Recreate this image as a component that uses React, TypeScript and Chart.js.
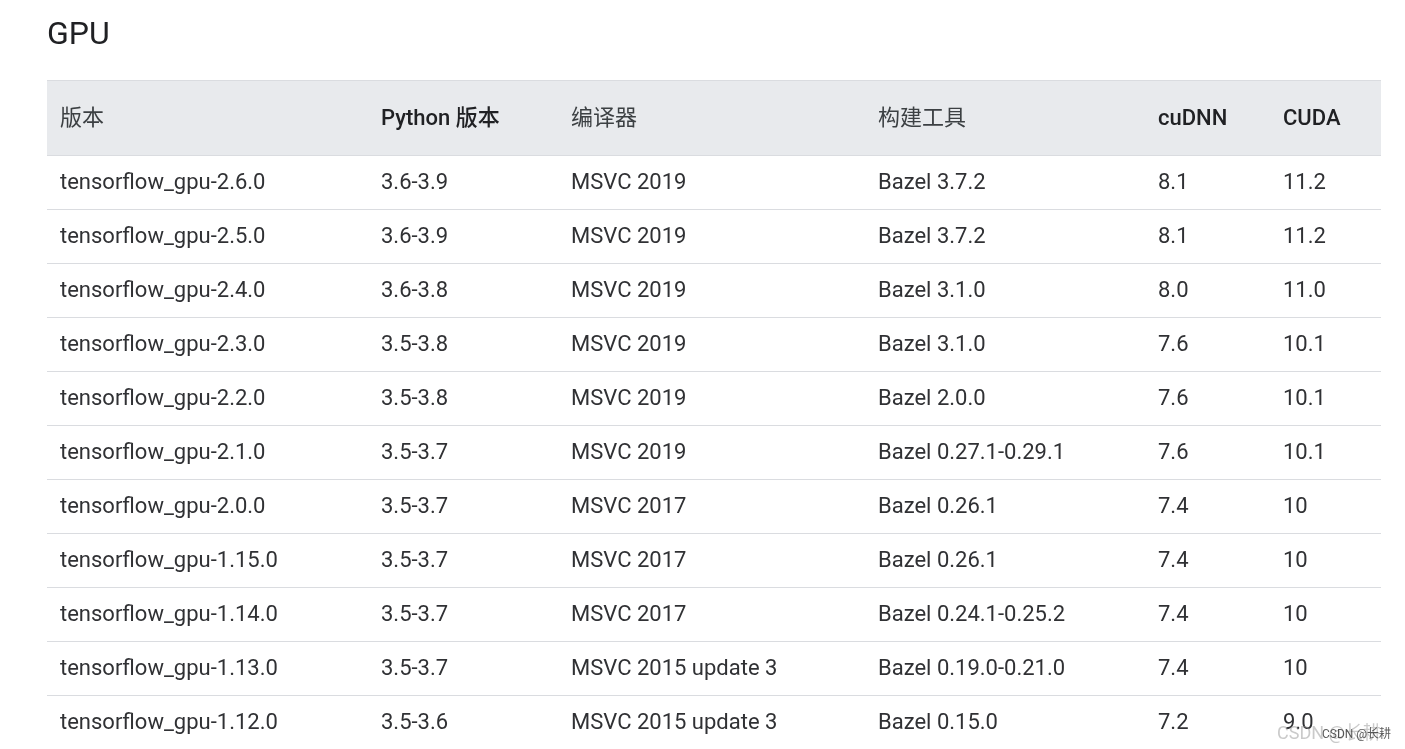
import React, { useEffect, useRef } from "react";
import { Chart, registerables } from "chart.js";

Chart.register(...registerables);

// ---- data ----
const title = "GPU";
const headers = ["版本", "Python 版本", "编译器", "构建工具", "cuDNN", "CUDA"];
const versions = [
  "tensorflow_gpu-2.6.0",
  "tensorflow_gpu-2.5.0",
  "tensorflow_gpu-2.4.0",
  "tensorflow_gpu-2.3.0",
  "tensorflow_gpu-2.2.0",
  "tensorflow_gpu-2.1.0",
  "tensorflow_gpu-2.0.0",
  "tensorflow_gpu-1.15.0",
  "tensorflow_gpu-1.14.0",
  "tensorflow_gpu-1.13.0",
  "tensorflow_gpu-1.12.0",
];
const pythonVersions = ["3.6-3.9", "3.6-3.9", "3.6-3.8", "3.5-3.8", "3.5-3.8", "3.5-3.7", "3.5-3.7", "3.5-3.7", "3.5-3.7", "3.5-3.7", "3.5-3.6"];
const compilers = ["MSVC 2019", "MSVC 2019", "MSVC 2019", "MSVC 2019", "MSVC 2019", "MSVC 2019", "MSVC 2017", "MSVC 2017", "MSVC 2017", "MSVC 2015 update 3", "MSVC 2015 update 3"];
const buildTools = ["Bazel 3.7.2", "Bazel 3.7.2", "Bazel 3.1.0", "Bazel 3.1.0", "Bazel 2.0.0", "Bazel 0.27.1-0.29.1", "Bazel 0.26.1", "Bazel 0.26.1", "Bazel 0.24.1-0.25.2", "Bazel 0.19.0-0.21.0", "Bazel 0.15.0"];
const cudnnVersions = ["8.1", "8.1", "8.0", "7.6", "7.6", "7.6", "7.4", "7.4", "7.4", "7.4", "7.2"];
const cudaVersions = ["11.2", "11.2", "11.0", "10.1", "10.1", "10.1", "10", "10", "10", "10", "9.0"];
const watermark = "CSDN @长耕";

// ---- layout / style ----
const colWidths = [321, 190, 307, 280, 125, 111];
const headerHeight = 75;
const cellPadX = 13;
const FONT_FAMILY = 'Roboto, "Noto Sans CJK SC", sans-serif';

export default function App() {
  const canvasRef = useRef<HTMLCanvasElement | null>(null);

  useEffect(() => {
    if (!canvasRef.current) return;
    const columns = [versions, pythonVersions, compilers, buildTools, cudnnVersions, cudaVersions];
    const totalWidth = colWidths.reduce((a, b) => a + b, 0);
    const colStarts: number[] = [];
    colWidths.reduce((acc, w) => {
      colStarts.push(acc);
      return acc + w;
    }, 0);

    const tablePlugin = {
      id: "tablePlugin",
      afterDraw(chart: any) {
        const ctx = chart.ctx as CanvasRenderingContext2D;
        const xs = chart.scales.x;
        const ys = chart.scales.y;
        const area = chart.chartArea;
        const left = xs.getPixelForValue(0);
        const right = xs.getPixelForValue(totalWidth);
        const headTop = area.top - headerHeight;
        ctx.save();
        // header background
        ctx.fillStyle = "#e8eaed";
        ctx.fillRect(left, headTop, right - left, headerHeight);
        ctx.fillStyle = "#dadce0";
        ctx.fillRect(left, headTop, right - left, 1);
        ctx.fillRect(left, area.top, right - left, 1);
        // header text
        ctx.textBaseline = "middle";
        ctx.textAlign = "left";
        headers.forEach((h, c) => {
          const isCJK = /^[\u4e00-\u9fff]+$/.test(h);
          ctx.font = `${isCJK ? 400 : 500} 22px ${FONT_FAMILY}`;
          ctx.fillStyle = isCJK ? "#3c4043" : "#202124";
          ctx.fillText(h, xs.getPixelForValue(colStarts[c]) + cellPadX, headTop + headerHeight / 2 + 1.5);
        });
        // rows
        const band = ys.getPixelForValue(1) - ys.getPixelForValue(0);
        ctx.font = `400 22px ${FONT_FAMILY}`;
        versions.forEach((_, r) => {
          const cy = ys.getPixelForValue(r);
          columns.forEach((col, c) => {
            ctx.fillStyle = "#303134";
            ctx.fillText(col[r], xs.getPixelForValue(colStarts[c]) + cellPadX, cy + 1);
          });
          if (r < versions.length - 1) {
            ctx.fillStyle = "#dadce0";
            ctx.fillRect(left, Math.round(cy + band / 2), right - left, 1);
          }
        });
        // watermark
        ctx.textBaseline = "alphabetic";
        ctx.font = `400 18px ${FONT_FAMILY}`;
        ctx.fillStyle = "rgba(150,150,150,0.5)";
        ctx.fillText(watermark, 1277, 739);
        ctx.font = `400 12px ${FONT_FAMILY}`;
        ctx.fillStyle = "rgba(60,60,60,0.85)";
        ctx.fillText(watermark, 1322, 738);
        ctx.restore();
      },
    };

    const chart = new Chart(canvasRef.current, {
      type: "scatter",
      data: { labels: versions, datasets: [] },
      options: {
        animation: false,
        responsive: true,
        maintainAspectRatio: false,
        layout: { padding: { left: 47, right: 24, top: 0, bottom: 0 } },
        plugins: {
          legend: { display: false },
          tooltip: { enabled: false },
          title: {
            display: true,
            text: title,
            align: "start",
            color: "#202124",
            font: { family: FONT_FAMILY, size: 32, weight: "normal", lineHeight: 1.2 },
            padding: { top: 17, bottom: 99.6 },
          },
        },
        scales: {
          x: { type: "linear", min: 0, max: totalWidth, display: false },
          y: { type: "category", labels: versions, offset: true, display: false },
        },
      },
      plugins: [tablePlugin],
    });
    return () => chart.destroy();
  }, []);

  return (
    <div style={{ position: "fixed", left: 0, top: 0, width: 1405, height: 749, background: "#fff" }}>
      <canvas ref={canvasRef} />
    </div>
  );
}
